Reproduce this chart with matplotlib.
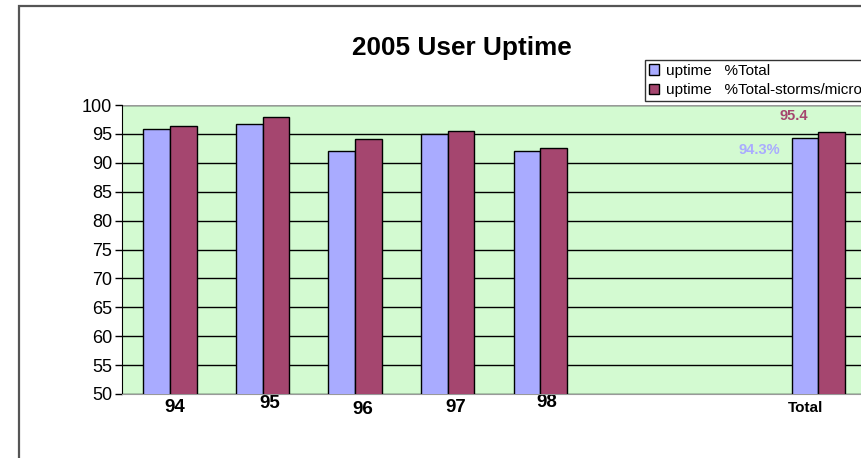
"""2005 User Uptime: grouped bars per year plus a total column."""

import matplotlib.pyplot as plt
import matplotlib.transforms as mtransforms
import numpy as np
from matplotlib.patches import Rectangle

plt.rcParams["font.family"] = ["Liberation Sans", "DejaVu Sans"]

categories = ["94", "95", "96", "97", "98", "", "", "Total"]
uptime_total = [95.8, 96.7, 92.0, 95.0, 92.0, np.nan, np.nan, 94.3]
uptime_no_storms = [96.4, 98.0, 94.2, 95.5, 92.6, np.nan, np.nan, 95.4]
series_names = ["uptime   %Total", "uptime   %Total-storms/micro"]

BLUE = "#a9abff"
PLUM = "#a5466f"
GREEN_BG = "#d3fad1"

fig = plt.figure(figsize=(8.62, 4.58), dpi=100)

# outer chart frame, running off the right and bottom edges like the screenshot
fig.patches.append(Rectangle((19 / 862, -0.1), 2.0, 1.1 - 6 / 458,
                             transform=fig.transFigure, fill=False,
                             edgecolor="#555555", linewidth=1.6, clip_on=False))

ax = fig.add_axes([121.7 / 862, 64 / 458, 743 / 862, 289 / 458])
ax.set_facecolor(GREEN_BG)

x = np.arange(len(categories))
width = 0.288
ax.bar(x - width / 2, uptime_total, width, color=BLUE, edgecolor="black",
       linewidth=1.0, label=series_names[0], zorder=3)
ax.bar(x + width / 2, uptime_no_storms, width, color=PLUM, edgecolor="black",
       linewidth=1.0, label=series_names[1], zorder=3)

ax.set_xlim(-0.52, len(categories) - 0.5)
ax.set_ylim(50, 100)
ax.set_yticks(np.arange(50, 101, 5))
ax.tick_params(axis="y", labelsize=13, length=5, width=1.0, pad=2)
ax.yaxis.grid(True, color="black", linewidth=1.0, zorder=1)
ax.set_axisbelow(True)

for side in ("top", "right"):
    ax.spines[side].set_visible(False)
ax.spines["left"].set_color("black")
ax.spines["bottom"].set_color("#999999")
ax.axhline(100, color="#999999", linewidth=1.0, zorder=2)

ax.set_xticks(x)
ax.set_xticklabels(categories, fontweight="bold", fontsize=13.5, va="center")
ax.tick_params(axis="x", length=0, pad=0)
# Excel-style staggered category labels (pixel offsets from the tick)
label_shift = [(5, -14), (7.5, -10), (7.5, -16), (8, -13.5), (6, -8.5),
               (0, 0), (0, 0), (-13, -13.5)]
for lbl, (dx, dy) in zip(ax.get_xticklabels(), label_shift):
    lbl.set_transform(lbl.get_transform()
                      + mtransforms.ScaledTranslation(dx / 100, dy / 100, fig.dpi_scale_trans))
ax.get_xticklabels()[-1].set_fontsize(11)

# value labels on the Total column
ax.annotate(f"{uptime_total[-1]:.1f}%", (x[-1] - width, uptime_total[-1]),
            xytext=(-8, -8.6), textcoords="offset points", ha="right", va="center",
            color=BLUE, fontweight="bold", fontsize=10.5)
ax.annotate(f"{uptime_no_storms[-1]:.1f}", (x[-1], uptime_no_storms[-1]),
            xytext=(-18, 11.5), textcoords="offset points", ha="center", va="center",
            color=PLUM, fontweight="bold", fontsize=10.5)

fig.text(462 / 862, 1 - 48 / 458, "2005 User Uptime", ha="center", va="center",
         fontsize=18.8, fontweight="bold")

leg = fig.legend(loc="upper left", bbox_to_anchor=(645 / 862, 1 - 60 / 458),
                 fontsize=11, frameon=True, fancybox=False, edgecolor="black",
                 handlelength=0.65, handleheight=0.65, handletextpad=0.45,
                 borderpad=0.25, labelspacing=0.35, borderaxespad=0)
leg.get_frame().set_linewidth(1.0)

fig.savefig("out.png", dpi=100)
